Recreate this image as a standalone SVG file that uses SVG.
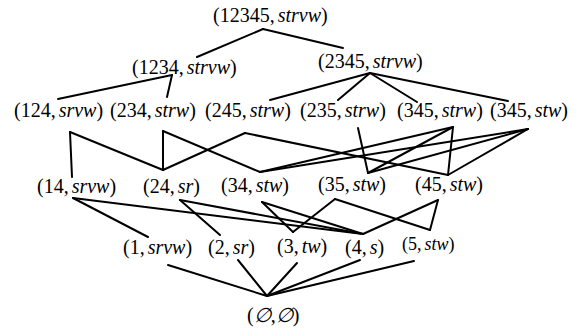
<svg xmlns="http://www.w3.org/2000/svg" width="579" height="333" viewBox="0 0 579 333">
<style>
.t{font-family:"Liberation Serif","Times New Roman",serif;font-size:20px;fill:#000}
.s{font-size:18px}
.i{font-style:italic}
#edges line{stroke:#000;stroke-width:2;stroke-linecap:round}
</style>
<rect width="579" height="333" fill="#fff"/>
<g id="edges">
<line x1="263" y1="29" x2="197" y2="57"/>
<line x1="263" y1="29" x2="343" y2="48"/>
<line x1="172" y1="75" x2="58" y2="99"/>
<line x1="172" y1="75" x2="167" y2="97"/>
<line x1="370" y1="73" x2="270" y2="100"/>
<line x1="370" y1="73" x2="338" y2="100"/>
<line x1="370" y1="73" x2="417" y2="102"/>
<line x1="370" y1="73" x2="508" y2="101"/>
<line x1="70" y1="132" x2="72" y2="177"/>
<line x1="70" y1="132" x2="163" y2="170"/>
<line x1="163" y1="131" x2="163" y2="170"/>
<line x1="163" y1="131" x2="260" y2="172"/>
<line x1="245" y1="133" x2="163" y2="170"/>
<line x1="245" y1="133" x2="448" y2="175"/>
<line x1="358" y1="128" x2="368" y2="173"/>
<line x1="453" y1="127" x2="260" y2="172"/>
<line x1="453" y1="127" x2="368" y2="173"/>
<line x1="453" y1="127" x2="448" y2="175"/>
<line x1="528" y1="129" x2="260" y2="172"/>
<line x1="528" y1="129" x2="368" y2="173"/>
<line x1="528" y1="129" x2="448" y2="175"/>
<line x1="73" y1="198" x2="148" y2="237"/>
<line x1="73" y1="198" x2="363" y2="234"/>
<line x1="180" y1="200" x2="220" y2="235"/>
<line x1="180" y1="200" x2="363" y2="234"/>
<line x1="262" y1="202" x2="293" y2="232"/>
<line x1="262" y1="202" x2="363" y2="234"/>
<line x1="335" y1="199" x2="293" y2="232"/>
<line x1="335" y1="199" x2="430" y2="230"/>
<line x1="438" y1="200" x2="363" y2="234"/>
<line x1="438" y1="200" x2="430" y2="230"/>
<line x1="267" y1="296" x2="168" y2="265"/>
<line x1="267" y1="296" x2="238" y2="260"/>
<line x1="267" y1="296" x2="297" y2="263"/>
<line x1="267" y1="296" x2="360" y2="260"/>
<line x1="267" y1="296" x2="414" y2="261"/>
</g>
<g id="n12345"><text class="t" x="213" y="22">(12345,<tspan class="i" dx="3">strvw</tspan>)</text></g>
<g id="n1234"><text class="t" x="132" y="74">(1234,<tspan class="i" dx="3">strvw</tspan>)</text></g>
<g id="n2345"><text class="t" x="318" y="68">(2345,<tspan class="i" dx="3">strvw</tspan>)</text></g>
<g id="n124"><text class="t" x="14" y="117">(124,<tspan class="i" dx="3">srvw</tspan>)</text></g>
<g id="n234"><text class="t" x="110" y="117">(234,<tspan class="i" dx="3">strw</tspan>)</text></g>
<g id="n245"><text class="t" x="205" y="117">(245,<tspan class="i" dx="3">strw</tspan>)</text></g>
<g id="n235"><text class="t" x="300" y="117">(235,<tspan class="i" dx="3">strw</tspan>)</text></g>
<g id="n345a"><text class="t" x="397" y="117">(345,<tspan class="i" dx="3">strw</tspan>)</text></g>
<g id="n345b"><text class="t" x="490" y="117">(345,<tspan class="i" dx="3">stw</tspan>)</text></g>
<g id="n14"><text class="t" x="37" y="193">(14,<tspan class="i" dx="3">srvw</tspan>)</text></g>
<g id="n24"><text class="t" x="143" y="193">(24,<tspan class="i" dx="3">sr</tspan>)</text></g>
<g id="n34"><text class="t" x="221" y="192">(34,<tspan class="i" dx="3">stw</tspan>)</text></g>
<g id="n35"><text class="t" x="318" y="191">(35,<tspan class="i" dx="3">stw</tspan>)</text></g>
<g id="n45"><text class="t" x="415" y="191">(45,<tspan class="i" dx="3">stw</tspan>)</text></g>
<g id="n1"><text class="t" x="123" y="254">(1,<tspan class="i" dx="3">srvw</tspan>)</text></g>
<g id="n2"><text class="t" x="208" y="254">(2,<tspan class="i" dx="3">sr</tspan>)</text></g>
<g id="n3"><text class="t" x="277" y="253">(3,<tspan class="i" dx="3">tw</tspan>)</text></g>
<g id="n4"><text class="t" x="345" y="254">(4,<tspan class="i" dx="3">s</tspan>)</text></g>
<g id="n5"><text class="t s" x="402" y="250">(5,<tspan class="i" dx="3">stw</tspan>)</text></g>
<g id="nempty"><text class="t" x="247" y="322">(<tspan class="i">∅</tspan>,<tspan class="i">∅</tspan>)</text></g>
</svg>
